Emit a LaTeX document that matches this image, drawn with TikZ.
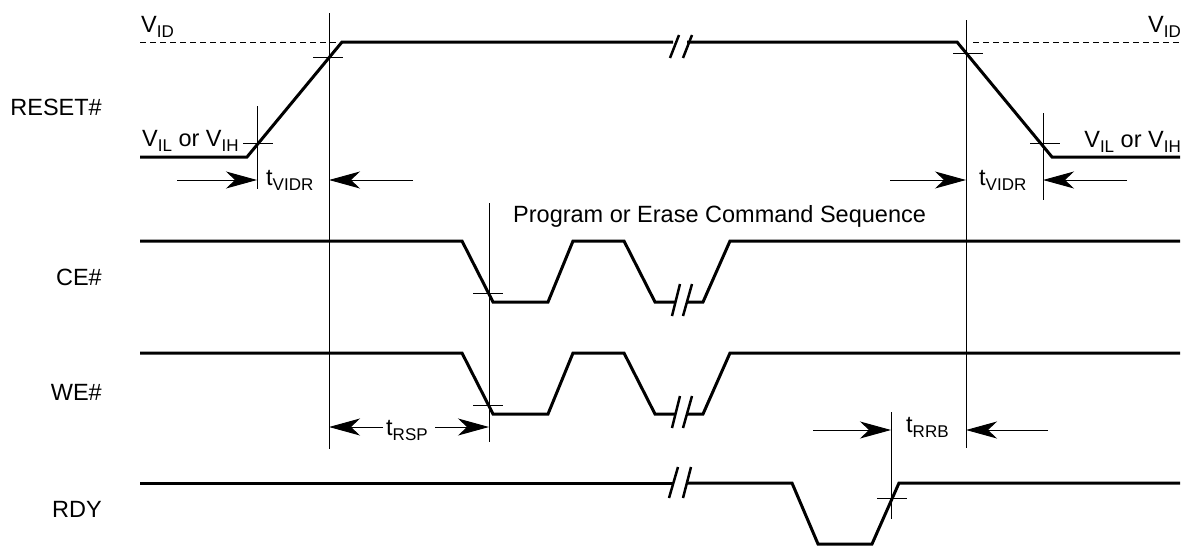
\documentclass[tikz,border=0pt]{standalone}
\usepackage{fontspec}
\setmainfont{Liberation Sans}
\usetikzlibrary{arrows.meta}
\newcommand{\sbs}[1]{\raisebox{-5pt}{\fontsize{17}{17}\selectfont #1}}
\begin{document}
\begin{tikzpicture}[x=1pt,y=-1pt,
  sig/.style={line width=3pt, line join=miter},
  brk/.style={line width=2.5pt},
  thin/.style={line width=1pt},
  dim/.style={line width=1pt, -{Stealth[length=31pt,width=17pt,inset=9pt]}},
  lbl/.style={inner sep=0pt, font=\fontsize{23.5}{28}\selectfont}]
\useasboundingbox (0,0) rectangle (1182,546);
% signal labels
\node[lbl, anchor=base east] (reset) at (102,115) {RESET\#};
\node[lbl, anchor=base east] (ce) at (102,285) {CE\#};
\node[lbl, anchor=base east] (we) at (102,400) {WE\#};
\node[lbl, anchor=base east] (rdy) at (102,517) {RDY};
% level labels
\node[lbl, anchor=base west] (vidl) at (141,32) {V\sbs{ID}};
\node[lbl, anchor=base east] (vidr) at (1181,32) {V\sbs{ID}};
\node[lbl, anchor=base west] (vill) at (142,146) {V\sbs{IL} or V\sbs{IH}};
\node[lbl, anchor=base east] (vilr) at (1181,147) {V\sbs{IL} or V\sbs{IH}};
\node[lbl, anchor=base west] (prog) at (513,222) {Program or Erase Command Sequence};
% timing labels
\node[lbl, anchor=base west] (tv1) at (266,185) {t\sbs{VIDR}};
\node[lbl, anchor=base west] (tv2) at (979,185) {t\sbs{VIDR}};
\node[lbl, anchor=base west] (trsp) at (386,435) {t\sbs{RSP}};
\node[lbl, anchor=base west] (trrb) at (906,432) {t\sbs{RRB}};
% dashed VID levels
\draw[thin, dash pattern=on 6pt off 4pt] (140,42) -- (342,42);
\draw[thin, dash pattern=on 6pt off 4pt] (973,42) -- (1182,42);
% RESET#
\draw[sig] (140,157) -- (247,157) -- (342,42) -- (673,42);
\draw[sig] (687,42) -- (957,42) -- (1052,157) -- (1180,157);
\draw[brk] (670,58) -- (679,35);
\draw[brk] (683,58) -- (692,35);
% CE#
\draw[sig] (140,241) -- (462,241) -- (493,302) -- (548,302) -- (573,241) -- (624,241) -- (655,302) -- (675,302);
\draw[sig] (688,302) -- (703,302) -- (730,241) -- (1180,241);
\draw[brk] (672,316) -- (680,284);
\draw[brk] (683,316) -- (692,284);
% WE#
\draw[sig] (140,353) -- (462,353) -- (493,414) -- (548,414) -- (573,353) -- (624,353) -- (655,414) -- (675,414);
\draw[sig] (688,414) -- (703,414) -- (730,353) -- (1180,353);
\draw[brk] (672,428) -- (680,396);
\draw[brk] (683,428) -- (692,396);
% RDY
\draw[sig] (140,483) -- (674,483);
\draw[sig] (687,483) -- (792,483) -- (818,544) -- (872,544) -- (899,483) -- (1180,483);
\draw[brk] (669,498) -- (678,467);
\draw[brk] (683,498) -- (691,467);
% vertical reference lines
\draw[thin] (257,106) -- (257,189);
\draw[thin] (329,13) -- (329,449);
\draw[thin] (489,203) -- (489,442);
\draw[thin] (966,20) -- (966,448);
\draw[thin] (1043,113) -- (1043,200);
\draw[thin] (891,412) -- (891,519);
% ticks
\draw[thin] (243,143) -- (273,143);
\draw[thin] (313,57) -- (343,57);
\draw[thin] (953,53) -- (983,53);
\draw[thin] (1030,143) -- (1060,143);
\draw[thin] (473,293) -- (503,293);
\draw[thin] (473,405) -- (503,405);
\draw[thin] (877,498) -- (907,498);
% dimension arrows
\coordinate (a1) at (177,180); \coordinate (a1e) at (257,180);
\coordinate (a2) at (413,180); \coordinate (a2e) at (329,180);
\coordinate (a3) at (890,180); \coordinate (a3e) at (966,180);
\coordinate (a4) at (1127,180); \coordinate (a4e) at (1043,180);
\coordinate (a5) at (383,427); \coordinate (a5e) at (329,427);
\coordinate (a6) at (435,427); \coordinate (a6e) at (489,427);
\coordinate (a7) at (813,430); \coordinate (a7e) at (891,430);
\coordinate (a8) at (1048,430); \coordinate (a8e) at (966,430);
\draw[dim] (a1) -- (a1e);
\draw[dim] (a2) -- (a2e);
\draw[dim] (a3) -- (a3e);
\draw[dim] (a4) -- (a4e);
\draw[dim] (a5) -- (a5e);
\draw[dim] (a6) -- (a6e);
\draw[dim] (a7) -- (a7e);
\draw[dim] (a8) -- (a8e);
\end{tikzpicture}
\end{document}
